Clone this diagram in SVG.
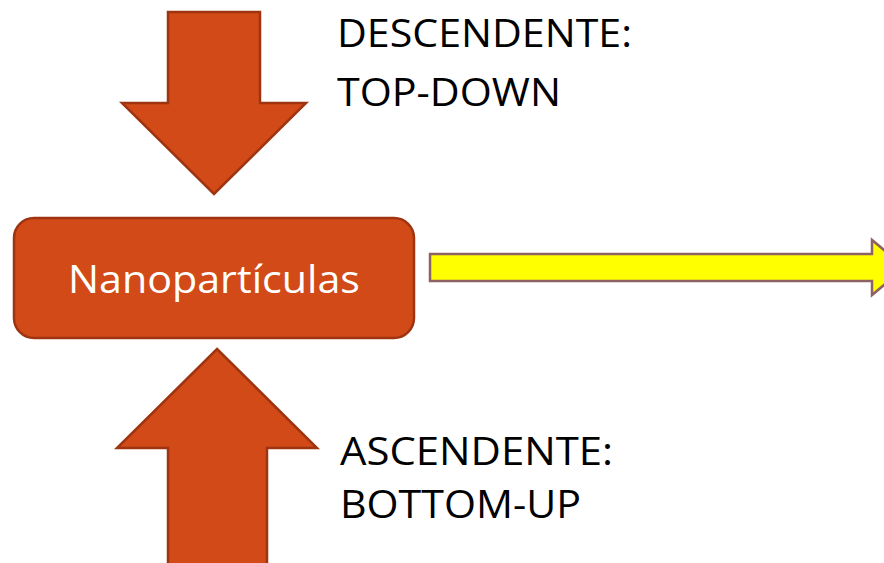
<svg xmlns="http://www.w3.org/2000/svg" width="884" height="563" viewBox="0 0 884 563">
<style>
.blk{fill:#D24A17;stroke:#9E3410;stroke-width:2.5;stroke-linejoin:miter}
.lbl{font-family:"Open Sans","Liberation Sans",sans-serif;font-size:38px;fill:#000}
.nt{font-family:"Open Sans","Liberation Sans",sans-serif;font-size:38px;fill:#fff}
</style>
<rect width="884" height="563" fill="#fff"/>
<g id="arrow-down">
<polygon class="blk" points="168,12 260,12 260,103 306,103 214,194 122,103 168,103"/>
</g>
<g id="arrow-up">
<polygon class="blk" points="217,349 317,448 267,448 267,570 168,570 168,448 117,448"/>
</g>
<g id="node-nano">
<rect class="blk" x="14" y="218" width="400" height="120" rx="20" ry="20"/>
<text class="nt" x="214" y="293" text-anchor="middle" textLength="292" lengthAdjust="spacingAndGlyphs">Nanopartículas</text>
</g>
<g id="connectors">
<polygon points="430,254 872,254 872,240 905,267.5 872,295 872,281 430,281" fill="#FFFF00" stroke="#8E6262" stroke-width="2.5"/>
</g>
<g id="label-top">
<text class="lbl" x="337" y="47" textLength="295" lengthAdjust="spacingAndGlyphs">DESCENDENTE:</text>
<text class="lbl" x="337" y="106" textLength="224" lengthAdjust="spacingAndGlyphs">TOP-DOWN</text>
</g>
<g id="label-bottom">
<text class="lbl" x="340" y="465" textLength="273" lengthAdjust="spacingAndGlyphs">ASCENDENTE:</text>
<text class="lbl" x="340" y="518" textLength="241" lengthAdjust="spacingAndGlyphs">BOTTOM-UP</text>
</g>
</svg>
